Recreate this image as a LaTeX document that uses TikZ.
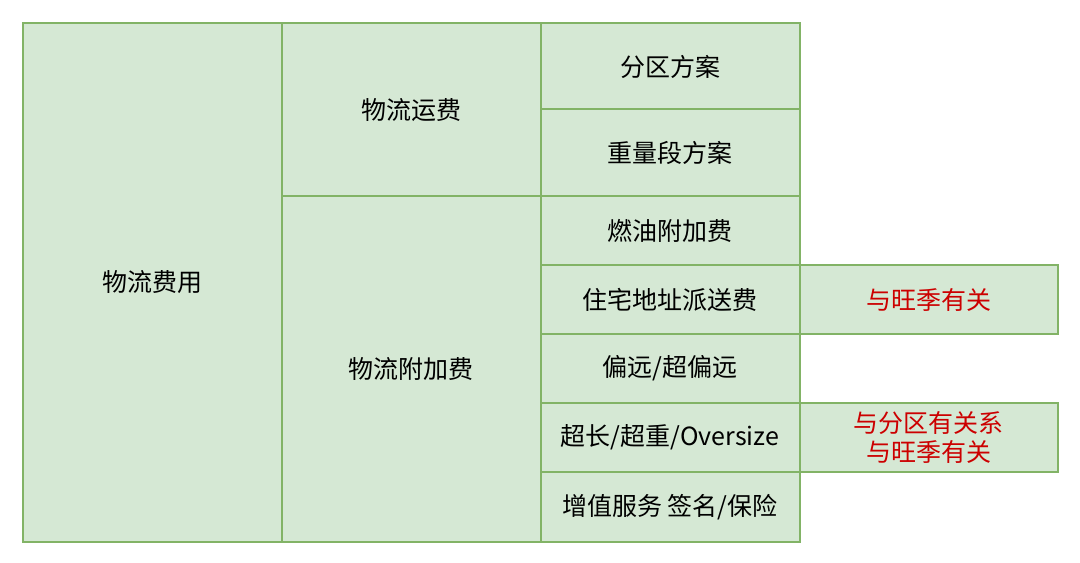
\documentclass[tikz,border=0pt]{standalone}
\usepackage{fontspec}
\setmainfont{Noto Sans CJK SC}
\definecolor{boxfill}{HTML}{D5E8D4}
\definecolor{boxline}{HTML}{82B366}
\definecolor{redtext}{HTML}{CC0000}
\begin{document}
\begin{tikzpicture}[x=1bp,y=-1bp,
  cell/.style={draw=boxline,fill=boxfill,line width=2bp,inner sep=0pt,outer sep=0pt,anchor=north west,
    font=\fontsize{25bp}{29bp}\selectfont,align=center},
  note/.style={cell,text=redtext}]
\useasboundingbox (0,0) rectangle (1080,563);
% column 1
\node[cell,minimum width=259bp,minimum height=518bp] (fy) at (22.5,23.5) {物流费用};
% column 2
\node[cell,minimum width=259bp,minimum height=172.5bp] (yf) at (281.5,23.5) {物流运费};
\node[cell,minimum width=259bp,minimum height=345.5bp] (fj) at (281.5,196) {物流附加费};
% column 3
\node[cell,minimum width=259bp,minimum height=86bp] (fq) at (540.5,23.5) {分区方案};
\node[cell,minimum width=259bp,minimum height=86.5bp] (zl) at (540.5,109.5) {重量段方案};
\node[cell,minimum width=259bp,minimum height=69bp] (ry) at (540.5,196) {燃油附加费};
\node[cell,minimum width=259bp,minimum height=69bp] (zz) at (540.5,265) {住宅地址派送费};
\node[cell,minimum width=259bp,minimum height=69bp] (py) at (540.5,334) {偏远/超偏远};
\node[cell,minimum width=259bp,minimum height=69bp] (cc) at (540.5,403) {超长/超重/Oversize};
\node[cell,minimum width=259bp,minimum height=69.5bp] (zj) at (540.5,472) {增值服务 签名/保险};
% notes
\node[note,minimum width=258bp,minimum height=69bp] (n1) at (799.5,265) {与旺季有关};
\node[note,minimum width=258bp,minimum height=69bp] (n2) at (799.5,403) {与分区有关系\\与旺季有关};
\end{tikzpicture}
\end{document}
